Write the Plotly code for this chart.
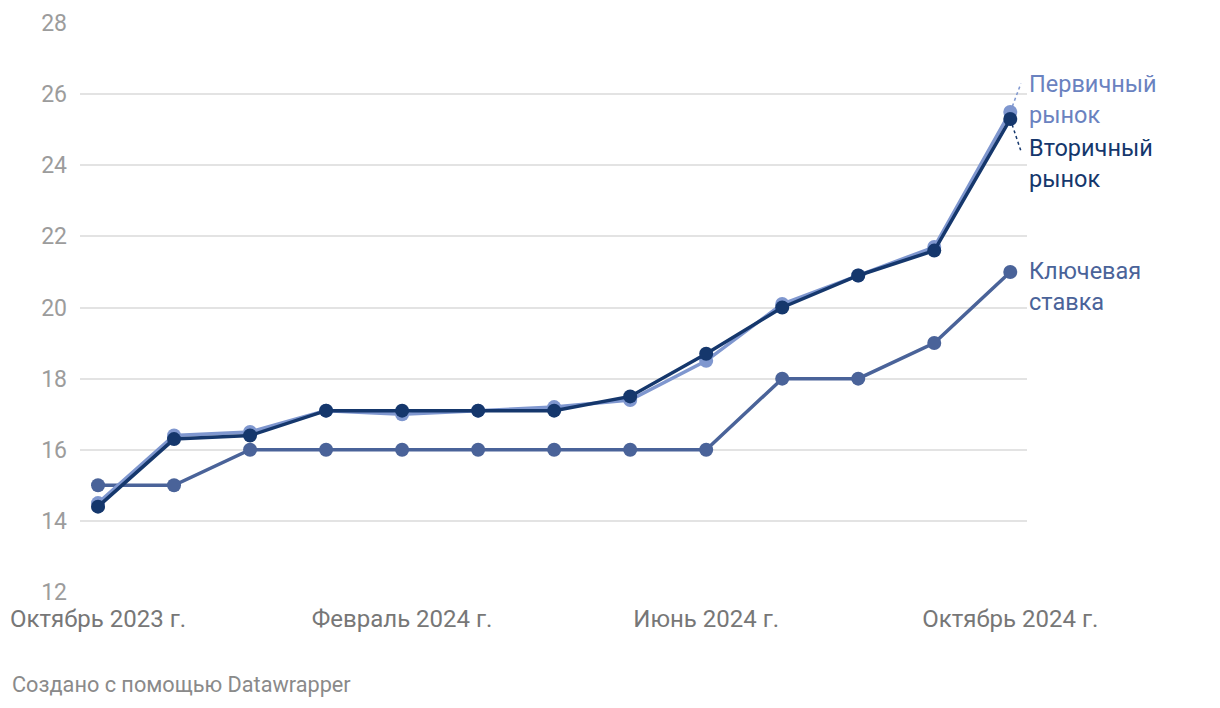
import plotly.graph_objects as go

# ─── Data ─────────────────────────────────────────────────────────────────────

MONTHS = [
    '2023-10', '2023-11', '2023-12', '2024-01', '2024-02', '2024-03', '2024-04',
    '2024-05', '2024-06', '2024-07', '2024-08', '2024-09', '2024-10',
]
PRIMARY = [14.5, 16.4, 16.5, 17.1, 17.0, 17.1, 17.2, 17.4, 18.5, 20.1, 20.9, 21.7, 25.5]
SECONDARY = [14.4, 16.3, 16.4, 17.1, 17.1, 17.1, 17.1, 17.5, 18.7, 20.0, 20.9, 21.6, 25.3]
KEY_RATE = [15, 15, 16, 16, 16, 16, 16, 16, 16, 18, 18, 19, 21]

TICK_MONTHS = ['2023-10', '2024-02', '2024-06', '2024-10']
TICK_TEXT = ['Октябрь 2023 г.', 'Февраль 2024 г.', 'Июнь 2024 г.', 'Октябрь 2024 г.']
Y_TICKS = [12, 14, 16, 18, 20, 22, 24, 26, 28]

# ─── Style ────────────────────────────────────────────────────────────────────

C_PRIMARY = '#7f97cf'
C_SECONDARY = '#15376c'
C_KEY = '#4a6399'
C_PRIMARY_TXT = '#6a82c0'
GRID = '#e3e3e3'
MUTED = '#9c9c9c'
FONT = 'Roboto, sans-serif'

fig = go.Figure()

for name, vals, col in [
    ('Ключевая ставка', KEY_RATE, C_KEY),
    ('Первичный рынок', PRIMARY, C_PRIMARY),
    ('Вторичный рынок', SECONDARY, C_SECONDARY),
]:
    fig.add_trace(go.Scatter(
        x=MONTHS, y=vals, name=name,
        mode='lines+markers',
        line=dict(color=col, width=3.5),
        marker=dict(color=col, size=14),
        hovertemplate='%{x}: %{y}<extra>' + name + '</extra>',
    ))

# dotted leader lines from the last points to the labels
last = len(MONTHS) - 1
fig.add_shape(type='line', x0=last, y0=PRIMARY[-1], x1=last + 0.14, y1=PRIMARY[-1] + 0.8,
              line=dict(color=C_PRIMARY, width=1.5, dash='dot'))
fig.add_shape(type='line', x0=last, y0=SECONDARY[-1], x1=last + 0.14, y1=SECONDARY[-1] - 0.9,
              line=dict(color=C_SECONDARY, width=1.5, dash='dot'))

labels = [
    ('Первичный<br>рынок', 25.85, C_PRIMARY_TXT),
    ('Вторичный<br>рынок', 24.05, C_SECONDARY),
    ('Ключевая<br>ставка', 20.6, C_KEY),
]
for text, y, col in labels:
    fig.add_annotation(
        xref='paper', x=1.0, xshift=0, xanchor='left',
        yref='y', y=y, yanchor='middle',
        text=text, showarrow=False, align='left',
        font=dict(size=23.5, color=col, family=FONT),
    )

fig.add_annotation(
    xref='paper', yref='paper', x=-0.0739, y=-0.163, xanchor='left', yanchor='middle',
    text='Создано с помощью Datawrapper', showarrow=False,
    font=dict(size=21.7, color='#8a8a8a', family=FONT),
)

# the page body adds an 8px offset, margins compensate for it
fig.update_layout(
    width=1220, height=708,
    paper_bgcolor='white', plot_bgcolor='white',
    font=dict(family=FONT, color=MUTED),
    margin=dict(l=72, r=201, t=15, b=124, autoexpand=False),
    showlegend=False,
    xaxis=dict(
        type='category',
        range=[-0.237, last + 0.22],
        tickvals=TICK_MONTHS, ticktext=TICK_TEXT,
        tickfont=dict(size=24, color='#777777'),
        showgrid=False, zeroline=False, showline=False,
        ticks='', ticklabelstandoff=10,
    ),
    yaxis=dict(
        range=[12, 28], tickvals=Y_TICKS,
        tickfont=dict(size=23, color=MUTED),
        gridcolor=GRID, gridwidth=1.5,
        zeroline=False, showline=False,
        ticks='', ticklabelstandoff=12,
    ),
)

fig.write_html('out.html')
